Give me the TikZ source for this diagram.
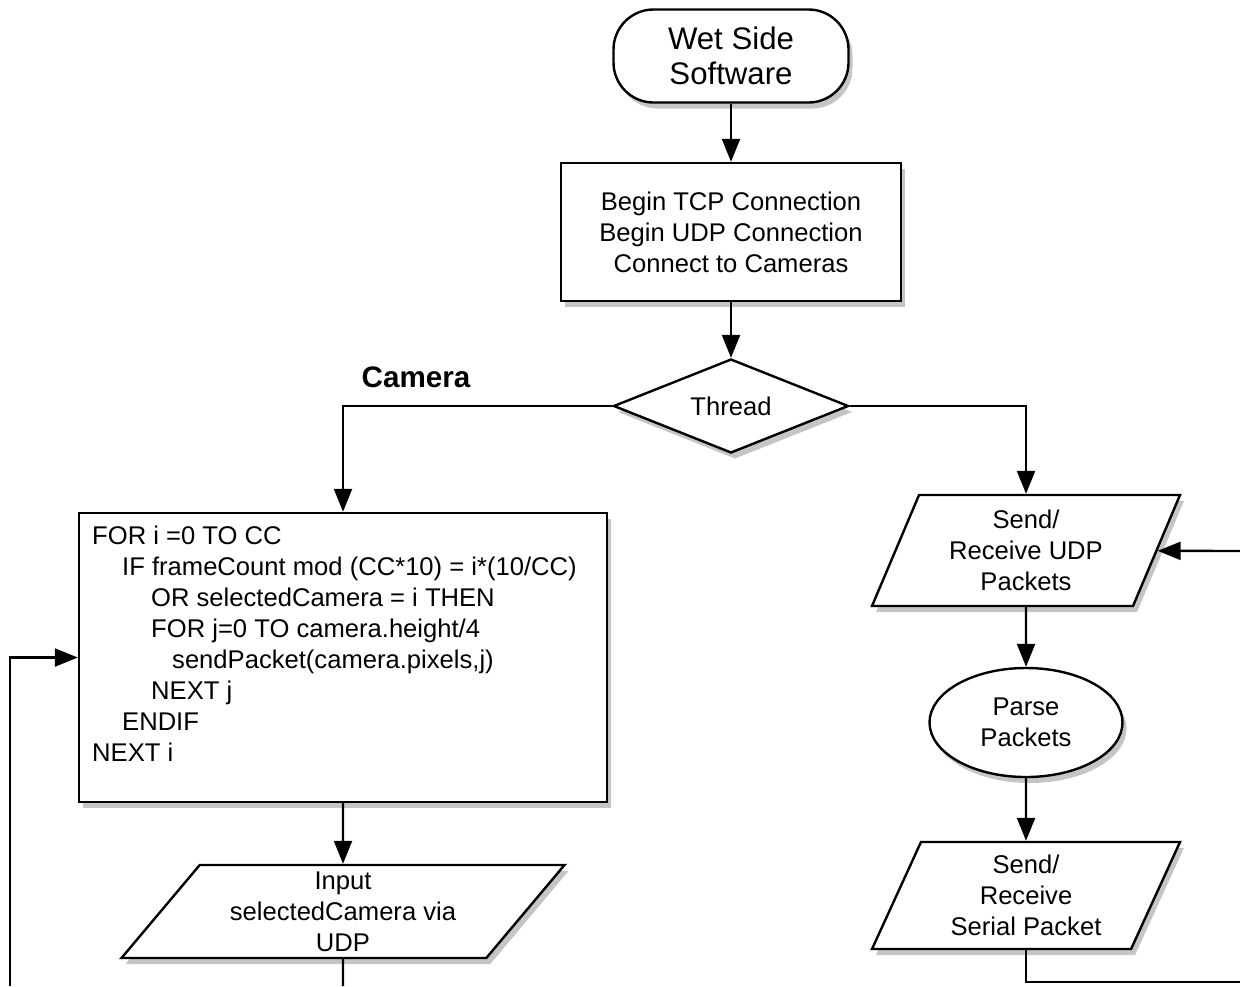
\documentclass[tikz,border=0pt]{standalone}
\usepackage{fontspec}
\setmainfont{Liberation Sans}
\usetikzlibrary{shapes.geometric,shadows,arrows.meta}

\begin{document}
\begin{tikzpicture}[x=0.5pt,y=-0.5pt,
  line width=1.2pt,
  font=\fontsize{12.8}{15.5}\selectfont,
  shade/.style={drop shadow={shadow xshift=2pt,shadow yshift=-3pt,fill=black!45,draw=none}},
  box/.style={draw,fill=white,shade},
  arr/.style={-{Triangle[width=9pt,length=11.5pt]}},
  io/.style={box,trapezium,trapezium stretches body=true,align=center,inner sep=1pt}
]
\useasboundingbox (0,0) rectangle (1240,986);

% main column
\node[box,rounded corners=20pt,minimum width=117.5pt,minimum height=46.5pt,
      align=center,font=\fontsize{15.6}{17.5}\selectfont] (start) at (731,56) {Wet Side\\Software};
\node[box,minimum width=170pt,minimum height=69pt,align=center] (init) at (731,232)
  {Begin TCP Connection\\Begin UDP Connection\\Connect to Cameras};
\node[box,diamond,aspect=2.5,minimum width=117.5pt,minimum height=47pt,inner sep=0pt] (thread) at (731,406) {Thread};

% camera thread
\node[font=\bfseries\fontsize{14.8}{17}\selectfont] (camlbl) at (416,377) {Camera};
\node[box,minimum width=264pt,minimum height=144.5pt] (loop) at (343,657.5) {};
\node[anchor=north west,align=left,inner sep=0pt] (code) at (91,525) {%
FOR i =0 TO CC\\
\hspace*{15pt}IF frameCount mod (CC*10) = i*(10/CC)\\
\hspace*{29.5pt}OR selectedCamera = i THEN\\
\hspace*{29.5pt}FOR j=0 TO camera.height/4\\
\hspace*{40pt}sendPacket(camera.pixels,j)\\
\hspace*{29.5pt}NEXT j\\
\hspace*{15pt}ENDIF\\
NEXT i};
\node[io,trapezium left angle=47,trapezium right angle=133,
      minimum width=221.5pt,minimum height=46.5pt] (inp) at (343,911.5)
  {Input\\selectedCamera via\\UDP};

% network thread
\node[io,trapezium left angle=61,trapezium right angle=119,
      minimum width=154pt,minimum height=55.5pt] (udp) at (1026,550.5)
  {Send/\\Receive UDP\\Packets};
\node[box,ellipse,minimum width=96.5pt,minimum height=54.5pt,inner sep=0pt,align=center] (parse) at (1026,722.5)
  {Parse\\Packets};
\node[io,trapezium left angle=60,trapezium right angle=120,
      minimum width=154pt,minimum height=53.5pt] (ser) at (1026,895.5)
  {Send/\\Receive\\Serial Packet};

% loose ends at the page border
\coordinate (inpout) at (343,986);
\coordinate (loopin) at (10,986);
\coordinate (udpin) at (1240,551);
\coordinate (serout) at (1240,982);

% connectors
\draw[arr] (start) -- (init);
\draw[arr] (init) -- (thread);
\draw[arr] (thread.west) -| (loop.north);
\draw[arr] (thread.east) -| (udp.north);
\draw[arr] (loop.south) -- (inp.north);
\draw (inp.south) -- (inpout);
\draw[arr] (loopin) |- (loop.west);
\draw[arr] (udpin) -- (udp);
\draw[arr] (udp) -- (parse);
\draw[arr] (parse) -- (ser);
\draw (ser.south) |- (serout);
\end{tikzpicture}
\end{document}
